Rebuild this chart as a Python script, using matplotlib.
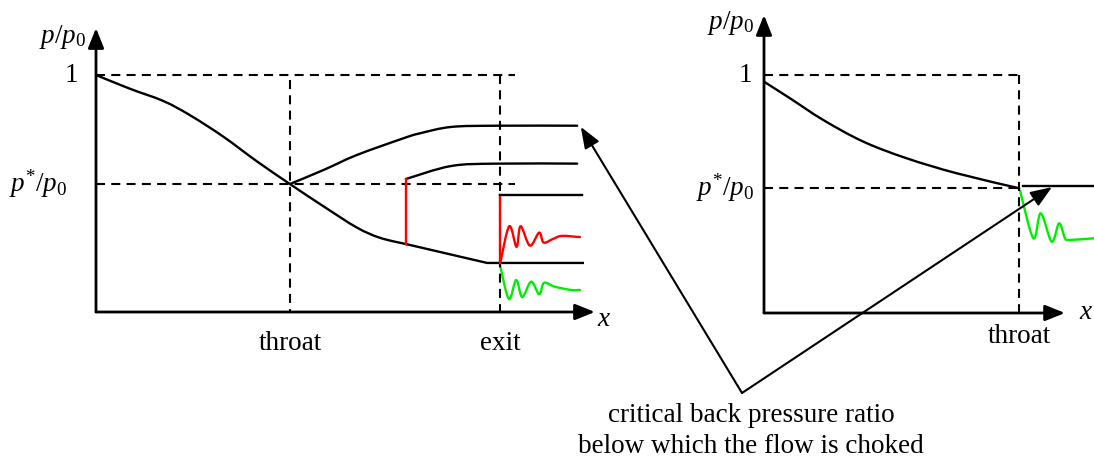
import numpy as np
import matplotlib
matplotlib.use("Agg")
import matplotlib.pyplot as plt
from matplotlib.path import Path
from matplotlib.patches import PathPatch

plt.rcParams['font.family'] = ['Liberation Serif', 'DejaVu Serif']
plt.rcParams['mathtext.fontset'] = 'custom'
plt.rcParams['mathtext.rm'] = 'Liberation Serif'
plt.rcParams['mathtext.it'] = 'Liberation Serif:italic'
plt.rcParams['mathtext.bf'] = 'Liberation Serif:bold'
plt.rcParams['lines.scale_dashes'] = False

# ---------------- data: left panel (x: exit = 1, y: p/p0) ----------------
P_STAR_L = 0.54
X_THROAT_L = 0.48
X_EXIT_L = 1.0

main_x = [0.0, 0.084, 0.167, 0.233, 0.315, 0.398, 0.48, 0.563, 0.645, 0.703, 0.769]
main_y = [1.0, 0.942, 0.890, 0.830, 0.740, 0.636, 0.54, 0.446, 0.357, 0.313, 0.286]
main_tail_x = [0.769, 0.968, 1.205]
main_tail_y = [0.286, 0.207, 0.207]

sub_x = [0.48, 0.563, 0.645, 0.761, 0.802, 0.880, 0.994, 1.191]
sub_y = [0.54, 0.599, 0.662, 0.733, 0.754, 0.781, 0.786, 0.786]

shock_x = 0.767
shock_y = [0.286, 0.561]
post_shock_x = [0.767, 0.879, 0.994, 1.191]
post_shock_y = [0.561, 0.616, 0.626, 0.626]

exit_shock_y = [0.207, 0.494]
exit_level_x = [1.0, 1.203]
exit_level_y = [0.494, 0.494]

red_osc_x = [1.001, 1.023, 1.041, 1.051, 1.074, 1.097, 1.108, 1.131, 1.153, 1.198]
red_osc_y = [0.210, 0.362, 0.275, 0.362, 0.280, 0.335, 0.293, 0.308, 0.321, 0.316]

green_osc_x = [1.0, 1.022, 1.040, 1.055, 1.077, 1.097, 1.109, 1.135, 1.176, 1.198]
green_osc_y = [0.198, 0.055, 0.135, 0.063, 0.128, 0.075, 0.123, 0.107, 0.093, 0.093]

# ---------------- data: right panel (x: throat = 1, y: p/p0) ----------------
P_STAR_R = 0.524
X_THROAT_R = 1.0

conv_x = [0.0, 0.102, 0.232, 0.389, 0.559, 0.755, 1.0]
conv_y = [0.972, 0.902, 0.811, 0.720, 0.650, 0.587, 0.524]
choked_x = [1.014, 1.293]
choked_y = [0.535, 0.535]
green_r_x = [1.003, 1.055, 1.084, 1.127, 1.156, 1.179, 1.199, 1.293]
green_r_y = [0.514, 0.314, 0.419, 0.300, 0.377, 0.314, 0.307, 0.314]

# annotation targets
tip_left = (1.200, 0.781)
tip_right = (1.128, 0.529)
vertex_px = (742, 393)

note_lines = ["critical back pressure ratio", "below which the flow is choked"]

W, H = 1094, 465
fig = plt.figure(figsize=(W / 100, H / 100), dpi=100)

RED = '#ff0000'
GREEN = '#00ee00'
LW = 1.7
AX_LW = 2.0
DASH = (6.5, 4.5)
FS = 19.5


def smooth_path(xs, ys):
    pts = np.column_stack([xs, ys]).astype(float)
    n = len(pts)
    ext = np.vstack([pts[0], pts, pts[-1]])
    verts = [pts[0]]
    codes = [Path.MOVETO]
    for i in range(n - 1):
        p0, p1, p2, p3 = ext[i], ext[i + 1], ext[i + 2], ext[i + 3]
        c1 = p1 + (p2 - p0) / 6.0
        c2 = p2 - (p3 - p1) / 6.0
        verts += [c1, c2, p2]
        codes += [Path.CURVE4] * 3
    return Path(verts, codes)


def add_smooth(ax, xs, ys, color='k', lw=LW):
    ax.add_patch(PathPatch(smooth_path(xs, ys), fill=False, ec=color, lw=lw,
                           clip_on=False, capstyle='round', joinstyle='round'))


def make_axes(x0, y0, wpx, hpx):
    ax = fig.add_axes([x0 / W, (H - y0) / H, wpx / W, hpx / H])
    ax.set_xlim(0, 1)
    ax.set_ylim(0, 1)
    ax.axis('off')
    return ax


def axis_arrows(ax, xtip, ytip):
    props = dict(arrowstyle='-|>,head_length=0.6,head_width=0.24', lw=AX_LW,
                 color='k', shrinkA=0, shrinkB=0, mutation_scale=20)
    ax.annotate('', xy=(xtip, 0), xytext=(0, 0), arrowprops=props,
                annotation_clip=False)
    ax.annotate('', xy=(0, ytip), xytext=(0, 0), arrowprops=props,
                annotation_clip=False)


# ---------------- left panel ----------------
ax1 = make_axes(96, 312, 404, 237)
axis_arrows(ax1, 1.235, 1.198)
dkw = dict(color='k', lw=1.5, dashes=DASH, clip_on=False)
ax1.plot([0, 1.037], [1, 1], **dkw)
ax1.plot([0, 1.037], [P_STAR_L, P_STAR_L], **dkw)
ax1.plot([X_THROAT_L, X_THROAT_L], [0.98, 0], **dkw)
ax1.plot([X_EXIT_L, X_EXIT_L], [1, 0], **dkw)

add_smooth(ax1, main_x, main_y)
ax1.plot(main_tail_x, main_tail_y, color='k', lw=LW, clip_on=False,
         solid_joinstyle='round')
add_smooth(ax1, sub_x, sub_y)
ax1.plot([shock_x, shock_x], shock_y, color=RED, lw=LW, clip_on=False)
add_smooth(ax1, post_shock_x, post_shock_y)
ax1.plot([X_EXIT_L, X_EXIT_L], exit_shock_y, color=RED, lw=LW, clip_on=False)
ax1.plot(exit_level_x, exit_level_y, color='k', lw=LW, clip_on=False)
add_smooth(ax1, red_osc_x, red_osc_y, color=RED)
add_smooth(ax1, green_osc_x, green_osc_y, color=GREEN)

tkw = dict(fontsize=FS, ha='center', va='center', clip_on=False)
ax1.text(-0.083, 1.160, r'$p/p_{\mathrm{0}}$', **tkw)
ax1.text(-0.062, 1.0, '1', **tkw)
ax1.text(-0.143, P_STAR_L, r'$p^{*}/p_{\mathrm{0}}$', **tkw)
ax1.text(X_THROAT_L, -0.131, 'throat', **tkw)
ax1.text(X_EXIT_L, -0.131, 'exit', **tkw)
ax1.text(1.258, -0.030, r'$x$', **tkw)

# ---------------- right panel ----------------
ax2 = make_axes(764, 313, 255.3, 238)
axis_arrows(ax2, 1.179, 1.252)
ax2.plot([0, X_THROAT_R], [1, 1], **dkw)
ax2.plot([0, X_THROAT_R], [P_STAR_R, P_STAR_R], **dkw)
ax2.plot([X_THROAT_R, X_THROAT_R], [1, 0], **dkw)

add_smooth(ax2, conv_x, conv_y)
ax2.plot(choked_x, choked_y, color='k', lw=LW, clip_on=False)
add_smooth(ax2, green_r_x, green_r_y, color=GREEN)

ax2.text(-0.133, 1.218, r'$p/p_{\mathrm{0}}$', **tkw)
ax2.text(-0.074, 0.996, '1', **tkw)
ax2.text(-0.153, P_STAR_R + 0.004, r'$p^{*}/p_{\mathrm{0}}$', **tkw)
ax2.text(X_THROAT_R, -0.100, 'throat', **tkw)
ax2.text(1.260, 0.004, r'$x$', **tkw)

# ---------------- annotation ----------------
aprops = dict(arrowstyle='-|>,head_length=0.65,head_width=0.25', lw=1.5,
              color='k', shrinkA=0, shrinkB=0, mutation_scale=20)
vx, vy = vertex_px[0], H - vertex_px[1]
ax1.annotate('', xy=tip_left, xycoords='data', xytext=(vx, vy),
             textcoords='figure pixels', arrowprops=aprops, annotation_clip=False)
ax2.annotate('', xy=tip_right, xycoords='data', xytext=(vx, vy),
             textcoords='figure pixels', arrowprops=aprops, annotation_clip=False)

fig.text(751 / W, (H - 415) / H, note_lines[0], fontsize=FS, ha='center', va='center')
fig.text(751 / W, (H - 446) / H, note_lines[1], fontsize=FS, ha='center', va='center')

fig.savefig('out.png', dpi=100, facecolor='white')
